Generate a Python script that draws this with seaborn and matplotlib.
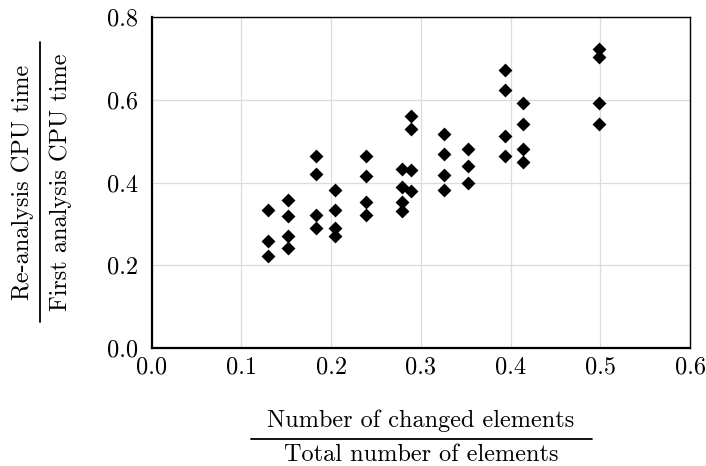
import matplotlib
matplotlib.use("Agg")
import matplotlib.pyplot as plt
import seaborn as sns
import pandas as pd
from matplotlib.lines import Line2D

# Fraction of changed elements (x positions of each group of runs)
changed_fraction = [0.130, 0.152, 0.183, 0.204, 0.239, 0.279,
                    0.289, 0.326, 0.353, 0.394, 0.414, 0.499]
# CPU time ratio values for each group
cpu_ratio_groups = [
    [0.333, 0.259, 0.222],
    [0.358, 0.320, 0.272, 0.242],
    [0.464, 0.421, 0.322, 0.290],
    [0.382, 0.333, 0.290, 0.271],
    [0.464, 0.415, 0.353, 0.321],
    [0.432, 0.390, 0.354, 0.332],
    [0.561, 0.528, 0.431, 0.380],
    [0.517, 0.468, 0.419, 0.382],
    [0.481, 0.439, 0.400],
    [0.672, 0.622, 0.511, 0.463],
    [0.593, 0.542, 0.482, 0.450],
    [0.722, 0.702, 0.593, 0.542],
]
x_ticks = [0.0, 0.1, 0.2, 0.3, 0.4, 0.5, 0.6]
y_ticks = [0.0, 0.2, 0.4, 0.6, 0.8]

rows = []
for xv, ys in zip(changed_fraction, cpu_ratio_groups):
    for yv in ys:
        rows.append({"x": xv, "y": yv})
df = pd.DataFrame(rows)

sns.set_style("white")
plt.rcParams["font.family"] = ["cmr10"]
plt.rcParams["mathtext.fontset"] = "cm"
plt.rcParams["axes.formatter.use_mathtext"] = True
plt.rcParams["axes.unicode_minus"] = False
plt.rcParams["text.color"] = "black"
plt.rcParams["xtick.color"] = "black"
plt.rcParams["ytick.color"] = "black"
plt.rcParams["xtick.labelcolor"] = "black"
plt.rcParams["ytick.labelcolor"] = "black"

FS = 17.5
fig = plt.figure(figsize=(7.06, 4.66), dpi=100)
ax = fig.add_axes([151.7 / 706, 1 - 348.3 / 466, (690 - 151.7) / 706, (348.3 - 16.7) / 466])

sns.scatterplot(data=df, x="x", y="y", marker="D", s=50, color="black",
                linewidth=0, ax=ax, zorder=3, legend=False)

ax.set_xlim(0, 0.6)
ax.set_ylim(0, 0.8)
ax.set_xticks(x_ticks)
ax.set_yticks(y_ticks)
ax.set_xticklabels([f"{t:.1f}" for t in x_ticks], fontsize=FS, color="black")
ax.set_yticklabels([f"{t:.1f}" for t in y_ticks], fontsize=FS, color="black")
ax.tick_params(direction="in", length=3.6, width=1.0, top=False, right=False,
               color="black")
ax.tick_params(axis="x", pad=6)
ax.tick_params(axis="y", pad=10)
ax.grid(True, color="#dcdcdc", linewidth=0.9)
ax.set_axisbelow(True)
ax.set_xlabel("")
ax.set_ylabel("")
for side in ["left", "bottom"]:
    ax.spines[side].set_linewidth(1.6)
    ax.spines[side].set_color("black")
for side in ["top", "right"]:
    ax.spines[side].set_linewidth(1.0)
    ax.spines[side].set_color("black")

# y label as fraction
W, H = 706, 466
fig.text(23 / W, 1 - 182 / H, "Re-analysis CPU time", rotation=90,
         ha="center", va="center", fontsize=FS, color="black")
fig.text(61 / W, 1 - 182 / H, "First analysis CPU time", rotation=90,
         ha="center", va="center", fontsize=FS, color="black")
fig.add_artist(Line2D([40 / W, 40 / W], [1 - 41.7 / H, 1 - 321.7 / H],
                      color="black", linewidth=1.3, transform=fig.transFigure))

# x label as fraction
fig.text(421 / W, 1 - 421 / H, "Number of changed elements",
         ha="center", va="center", fontsize=FS, color="black")
fig.text(421 / W, 1 - 455 / H, "Total number of elements",
         ha="center", va="center", fontsize=FS, color="black")
fig.add_artist(Line2D([251 / W, 592 / W], [1 - 438.5 / H, 1 - 438.5 / H],
                      color="black", linewidth=1.3, transform=fig.transFigure))

fig.savefig("out.png", dpi=100)
